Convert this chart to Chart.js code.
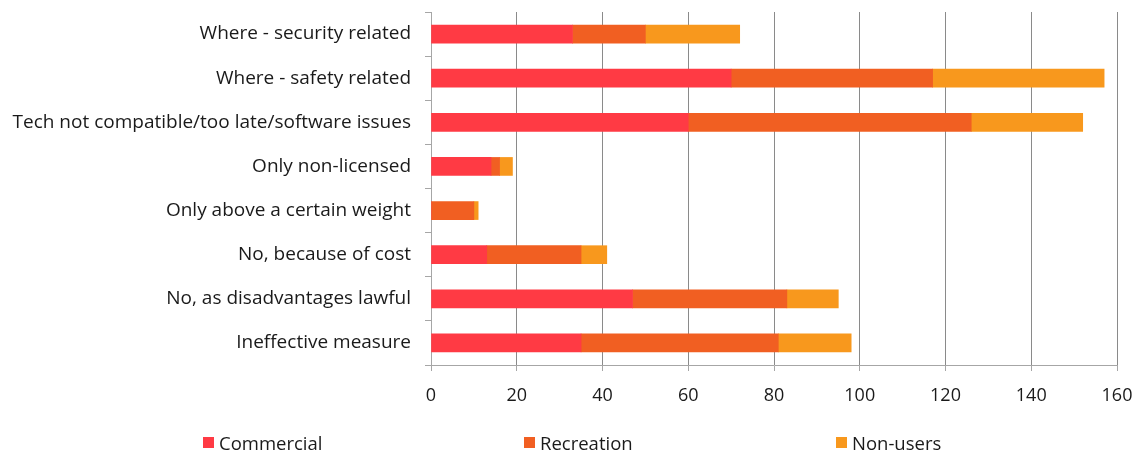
<!DOCTYPE html>
<html>
<head>
<meta charset="utf-8">
<script src="https://cdn.jsdelivr.net/npm/chart.js@4"></script>
<style>
  html, body { margin: 0; padding: 0; background: #fff; }
  #wrap { width: 1137px; height: 452px; position: relative; }
  #legend { position: absolute; left: 0; top: 430px; width: 1137px; height: 24px; }
  .item { position: absolute; top: 0; display: flex; align-items: center; height: 24px;
          font-family: 'Open Sans', 'Noto Sans', sans-serif; font-size: 18.5px; color: #1a1a1a; white-space: nowrap; }
  .box { width: 11px; height: 11px; margin-right: 5px; }
</style>
</head>
<body>
<div id="wrap"><canvas id="chart"></canvas><div id="legend"></div></div>
<script>
// categories, top to bottom
const reasons = [
    'Where - security related',
    'Where - safety related',
    'Tech not compatible/too late/software issues',
    'Only non-licensed',
    'Only above a certain weight',
    'No, because of cost',
    'No, as disadvantages lawful',
    'Ineffective measure'
];
const commercial = [33, 70, 60, 14, 0, 13, 47, 35];
const recreation = [17, 47, 66, 2, 10, 22, 36, 46];
const nonUsers = [22, 40, 26, 3, 1, 6, 12, 17];
const xTicks = [0, 20, 40, 60, 80, 100, 120, 140, 160];

const font = "'Open Sans', 'Noto Sans', sans-serif";
const axisGrey = '#a6a6a6';
const textColor = '#1a1a1a';

const chart = new Chart(document.getElementById('chart').getContext('2d'), {
    type: 'bar',
    data: {
        labels: reasons,
        datasets: [
            { label: 'Commercial', data: commercial, backgroundColor: '#ff3a44' },
            { label: 'Recreation', data: recreation, backgroundColor: '#f15f22' },
            { label: 'Non-users', data: nonUsers, backgroundColor: '#f8981d' }
        ]
    },
    options: {
        indexAxis: 'y',
        responsive: true,
        maintainAspectRatio: false,
        animation: false,
        barThickness: 18,
        layout: { padding: { top: 12, right: 20, left: 4, bottom: 47 } },
        scales: {
            x: {
                stacked: true,
                min: 0,
                max: 160,
                afterBuildTicks: scale => { scale.ticks = xTicks.map(v => ({ value: v })); },
                grid: { color: '#8a8a8a', tickLength: 6, tickColor: axisGrey },
                border: { color: axisGrey, width: 1 },
                ticks: { color: textColor, font: { family: font, size: 18 }, padding: 14 },
                afterFit: scale => {
                    scale.height = 40;
                    scale.paddingLeft = 0;
                    scale.paddingRight = 0;
                }
            },
            y: {
                stacked: true,
                grid: { drawOnChartArea: false, offset: true, tickLength: 6, color: axisGrey },
                border: { color: axisGrey, width: 1 },
                ticks: { color: textColor, font: { family: font, size: 19 }, padding: 14, autoSkip: false },
                afterFit: scale => {
                    scale.width = 427;
                    scale.paddingTop = 0;
                    scale.paddingBottom = 0;
                }
            }
        },
        plugins: {
            legend: { display: false },
            tooltip: { enabled: false }
        }
    }
});

// legend as real text under the canvas, spread out like the original
const legendLeft = [203, 524, 836];
const legend = document.getElementById('legend');
chart.data.datasets.forEach((ds, i) => {
    const item = document.createElement('div');
    item.className = 'item';
    item.style.left = legendLeft[i] + 'px';
    const box = document.createElement('span');
    box.className = 'box';
    box.style.background = ds.backgroundColor;
    item.appendChild(box);
    item.appendChild(document.createTextNode(ds.label));
    legend.appendChild(item);
});
</script>
</body>
</html>
